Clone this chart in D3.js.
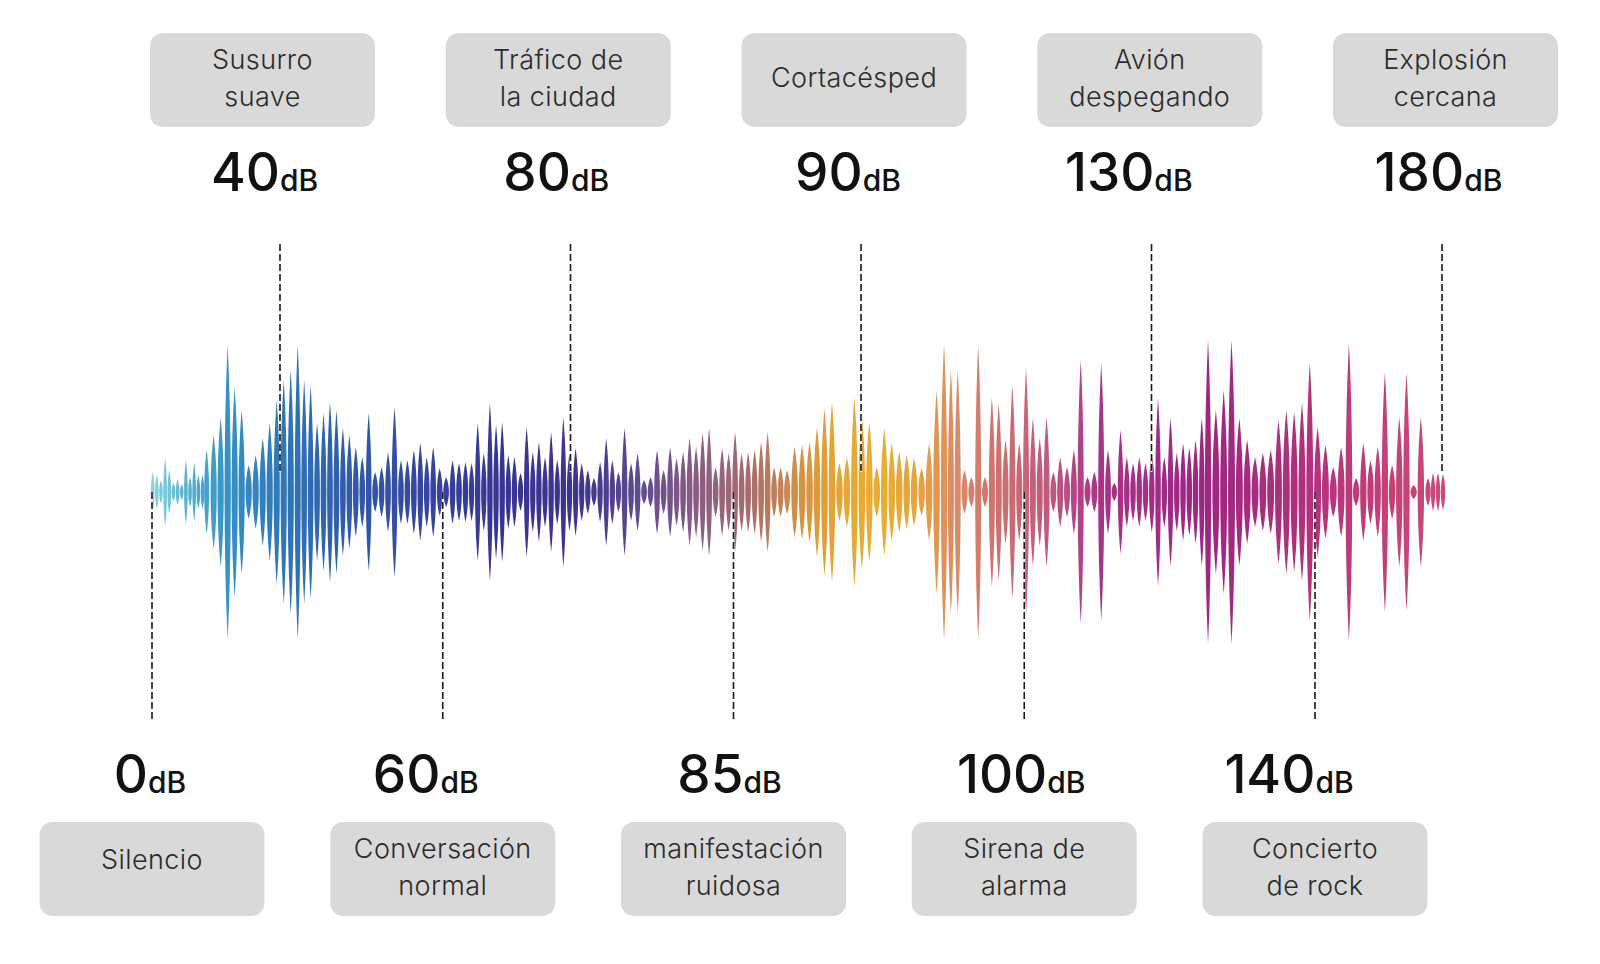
<!DOCTYPE html>
<html>
<head>
<meta charset="utf-8">
<script src="https://cdn.jsdelivr.net/npm/d3@7/dist/d3.min.js"></script>
<style>
  html, body { margin: 0; padding: 0; background: #fff; }
  svg { display: block; font-family: Inter, "Noto Sans", sans-serif; }
</style>
</head>
<body>
<div id="chart"></div>
<script>
/* Sound levels over a waveform: labels above are the "top" stops,
   labels below the "bottom" stops, each tied to a dashed marker. */

// ---- data ----
var topDb = [40, 80, 90, 130, 180];
var topSources = [["Susurro", "suave"], ["Tráfico de", "la ciudad"], ["Cortacésped"],
                  ["Avión", "despegando"], ["Explosión", "cercana"]];
var bottomDb = [0, 60, 85, 100, 140];
var bottomSources = [["Silencio"], ["Conversación", "normal"], ["manifestación", "ruidosa"],
                     ["Sirena de", "alarma"], ["Concierto", "de rock"]];

// spike amplitudes (half height) read left to right off the waveform
var amps = [
  20, 17, 12, 34, 22, 9, 13, 8, 32, 15, 29, 17, 17,
  42, 57, 75, 147, 105, 82, 27, 37, 54, 69, 92, 112, 122, 147, 112, 107, 69,
  79, 90, 82, 64, 57, 45, 35, 79, 20, 25, 40, 85, 32, 32, 42, 49, 35, 45, 24, 15, 32, 29, 30,
  29, 69, 39, 89, 67, 70, 37, 35, 19, 65, 40, 50, 35, 60, 32, 75, 39, 44, 29, 22,
  14, 30, 54, 32, 20, 64, 29, 39, 12, 15, 42, 22, 45, 34, 40, 54, 45, 59, 64, 25,
  44, 39, 60, 39, 40, 42, 50, 60, 25, 25, 22,
  45, 47, 50, 65, 84, 90, 29, 35, 95, 77, 70, 25, 64, 49, 40, 37, 34, 24, 49, 102,
  149, 122, 122, 22, 15, 147, 15, 95, 89, 52, 107, 49, 124, 74, 54, 75, 20, 35, 25, 42,
  132, 15, 20, 129, 42,
  9, 62, 35, 29, 35, 29, 40, 94, 35, 74, 39, 49, 44, 52, 74, 152, 82, 102, 152, 74,
  52, 35, 39, 42, 72, 82, 80, 89, 129, 65, 47, 25, 45, 149, 14, 49, 32, 45, 120, 27,
  75, 119, 7, 75, 14, 19, 19, 18
];
// spike index -> position along the wave (0 = first, 1 = last), read at a few spikes
var posIndex = [0, 13, 26, 52, 78, 103, 124, 148, 164, 182, 193, 196];
var posFrac  = [0, 0.0418, 0.1124, 0.2424, 0.3657, 0.4917, 0.6133, 0.7404, 0.8179, 0.9271, 0.9884, 1];

// colour along the wave
var colorStops = [0, 0.037, 0.06, 0.099, 0.146, 0.208, 0.27, 0.332, 0.378, 0.424, 0.463,
                  0.494, 0.525, 0.564, 0.599, 0.626, 0.657, 0.696, 0.734, 0.812, 0.889, 0.951, 1];
var colorVals = ["#86d3de", "#48a8cc", "#3490c4", "#2f78b8", "#2f5eaa", "#3646a0", "#363692",
                 "#3f358e", "#604c90", "#8a5e82", "#a86c6c", "#cc8c4a", "#e0a438", "#e8b030",
                 "#e2a046", "#d8886a", "#cc7070", "#c05880", "#a83488", "#9c2684", "#b0307e",
                 "#c43e78", "#cc4a78"];

// ---- layout ----
var W = 1600, H = 964;
var cy = 492;
var waveX0 = 152.7, waveX1 = 1443;
// small horizontal nudges of the dB figures, as placed in the original
var topNudge = [2, -2, -6, -21, -7];
var bottomNudge = [-2, -17, -4, -3, -26];

var svg = d3.select("#chart").append("svg")
  .attr("width", W).attr("height", H)
  .attr("viewBox", "0 0 " + W + " " + H);

var frac = d3.scaleLinear().domain(posIndex).range(posFrac);
var x = d3.scaleLinear().domain([0, 1]).range([waveX0, waveX1]);
var amp = d3.scaleLinear().domain([0, 160]).range([0, 160]);
var color = d3.scaleLinear().domain(colorStops).range(colorVals)
  .interpolate(d3.interpolateRgb);

var topLine = d3.scalePoint().domain(topDb).range([280, 1442]);
var bottomLine = d3.scalePoint().domain(bottomDb).range([152, 1315]);
var topBox = d3.scalePoint().domain(topDb).range([262.5, 1445.5]);

// ---- waveform ----
var n = amps.length;
var spikes = amps.map(function (a, i) {
  var prev = x(frac(Math.max(0, i - 1))), next = x(frac(Math.min(n - 1, i + 1)));
  var spacing = (next - prev) / ((i === 0 || i === n - 1) ? 1 : 2);
  return { x: x(frac(i)), a: Math.max(3, amp(a)), hw: spacing * 0.44, t: frac(i) };
});

// pointed lens: cubic sides, widest at the centre line
svg.append("g").selectAll("path")
  .data(spikes).join("path")
  .attr("d", function (d) {
    var c = d.hw / 0.75, s = 0.42 * d.a;
    return "M" + d.x + "," + (cy - d.a) +
      " C" + (d.x + c) + "," + (cy - s) + " " + (d.x + c) + "," + (cy + s) + " " + d.x + "," + (cy + d.a) +
      " C" + (d.x - c) + "," + (cy + s) + " " + (d.x - c) + "," + (cy - s) + " " + d.x + "," + (cy - d.a) + "Z";
  })
  .attr("fill", function (d) { return color(d.t); });

// ---- dashed markers ----
function marker(xp, y1, y2) {
  var g = svg.append("g");
  g.append("line").attr("x1", xp).attr("x2", xp).attr("y1", y1).attr("y2", y2)
    .attr("stroke", "#fff").attr("stroke-width", 1.8);
  g.append("line").attr("x1", xp).attr("x2", xp).attr("y1", y1).attr("y2", y2)
    .attr("stroke", "#1a1a1a").attr("stroke-width", 1.6)
    .attr("stroke-dasharray", "7,3");
}
topDb.forEach(function (d) { marker(topLine(d), 244, 472); });
bottomDb.forEach(function (d) { marker(bottomLine(d), 492, 721); });

// ---- boxes + labels ----
var boxW = 225, boxH = 94;

function box(cx, y, lines, single) {
  var g = svg.append("g");
  g.append("rect").attr("x", cx - boxW / 2).attr("y", y)
    .attr("width", boxW).attr("height", boxH).attr("rx", 13)
    .attr("fill", "#d9d9d9");
  var base = lines.length === 1 ? [single] : [36, 73];
  lines.forEach(function (s, i) {
    g.append("text").attr("x", cx).attr("y", y + base[i])
      .attr("text-anchor", "middle")
      .attr("font-size", 27).attr("font-weight", 300)
      .attr("letter-spacing", 0.4)
      .attr("fill", "#2b2b2b").text(s);
  });
}

function level(cx, y, db) {
  var t = svg.append("text").attr("x", cx).attr("y", y)
    .attr("text-anchor", "middle").attr("fill", "#111");
  t.append("tspan").attr("font-size", 53).attr("font-weight", 500).text(db);
  t.append("tspan").attr("font-size", 30).attr("font-weight", 500).text("dB");
}

topDb.forEach(function (d, i) {
  box(topBox(d), 33, topSources[i], 54);
  level(topBox(d) + topNudge[i], 191, d);
});
bottomDb.forEach(function (d, i) {
  box(bottomLine(d), 822, bottomSources[i], 47);
  level(bottomLine(d) + bottomNudge[i], 793, d);
});
</script>
</body>
</html>
